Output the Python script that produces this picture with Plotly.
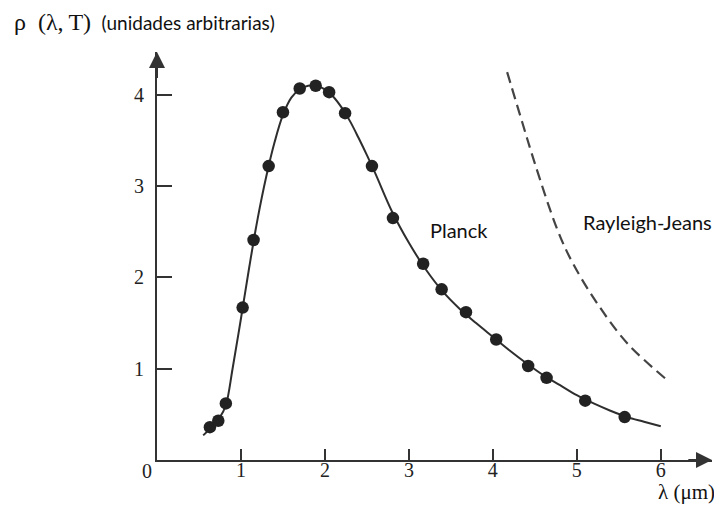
import plotly.graph_objects as go

# Measured data points (lambda in um, rho arbitrary units)
data_x = [0.63, 0.73, 0.82, 1.02, 1.15, 1.33, 1.50, 1.70, 1.89, 2.05, 2.24, 2.56,
          2.81, 3.17, 3.39, 3.68, 4.04, 4.42, 4.64, 5.10, 5.57]
data_y = [0.36, 0.43, 0.62, 1.67, 2.41, 3.22, 3.81, 4.07, 4.10, 4.03, 3.80, 3.22,
          2.65, 2.15, 1.87, 1.62, 1.32, 1.03, 0.90, 0.65, 0.47]

# Planck curve
planck_x = [0.55, 0.65, 0.75, 0.82, 0.90, 1.00, 1.10, 1.20, 1.30, 1.40, 1.50, 1.60,
            1.70, 1.80, 1.90, 2.00, 2.10, 2.20, 2.30, 2.40, 2.50, 2.60, 2.80, 3.00,
            3.20, 3.40, 3.60, 3.80, 4.00, 4.20, 4.40, 4.60, 4.80, 5.00, 5.20, 5.40,
            5.60, 5.80, 6.00]
planck_y = [0.27, 0.36, 0.47, 0.60, 1.00, 1.55, 2.12, 2.65, 3.10, 3.48, 3.78, 3.97,
            4.06, 4.10, 4.10, 4.06, 3.98, 3.86, 3.71, 3.53, 3.34, 3.14, 2.72, 2.38,
            2.09, 1.85, 1.66, 1.50, 1.35, 1.20, 1.06, 0.93, 0.82, 0.71, 0.62, 0.54,
            0.47, 0.42, 0.37]

# Rayleigh-Jeans curve
rj_x = [4.17, 4.35, 4.50, 4.77, 4.95, 5.24, 5.60, 6.07]
rj_y = [4.25, 3.70, 3.25, 2.52, 2.16, 1.72, 1.28, 0.88]

x_ticks = [1, 2, 3, 4, 5, 6]
y_ticks = [1, 2, 3, 4]

XMAX = 6.61
YMAX = 4.47
AX = "#333333"
SERIF = "Liberation Serif"
SANS = "Lato"

fig = go.Figure()
fig.add_trace(go.Scatter(x=planck_x, y=planck_y, mode="lines",
                         line=dict(color="#2e2e2e", width=2, shape="spline"),
                         hoverinfo="skip"))
fig.add_trace(go.Scatter(x=rj_x, y=rj_y, mode="lines",
                         line=dict(color="#444444", width=2.2, dash="11px,6px", shape="spline"),
                         hoverinfo="skip"))
fig.add_trace(go.Scatter(x=data_x, y=data_y, mode="markers",
                         marker=dict(color="#222222", size=12.5, line=dict(width=0)),
                         hoverinfo="skip"))

# page body has an 8px margin, so the figure is 8px smaller and shifted
fig.update_layout(
    width=714, height=510,
    margin=dict(l=149, r=10, t=44, b=58, autoexpand=False),
    paper_bgcolor="white", plot_bgcolor="white",
    showlegend=False,
    xaxis=dict(range=[0, XMAX], showgrid=False, zeroline=False, automargin=False,
               showline=True, linecolor=AX, linewidth=2,
               tickvals=x_ticks, ticktext=[str(v) for v in x_ticks],
               ticks="inside", ticklen=11, tickwidth=1.5, tickcolor=AX,
               tickfont=dict(family=SERIF, size=20, color="#222"),
               ticklabelstandoff=-9),
    yaxis=dict(range=[0, YMAX], showgrid=False, zeroline=False, automargin=False,
               showline=True, linecolor=AX, linewidth=2,
               tickvals=y_ticks, ticktext=[str(v) for v in y_ticks],
               ticks="inside", ticklen=15, tickwidth=1.5, tickcolor=AX,
               tickfont=dict(family=SERIF, size=20, color="#222"),
               ticklabelstandoff=7),
)

# axis arrowheads
fig.add_annotation(x=XMAX, y=0, ax=XMAX - 0.3, ay=0, xref="x", yref="y",
                   axref="x", ayref="y", showarrow=True, arrowhead=2,
                   arrowsize=1.6, arrowwidth=2, arrowcolor=AX, text="")
fig.add_annotation(x=0, y=YMAX, ax=0, ay=YMAX - 0.3, xref="x", yref="y",
                   axref="x", ayref="y", showarrow=True, arrowhead=2,
                   arrowsize=1.6, arrowwidth=2, arrowcolor=AX, text="")

# origin label
fig.add_annotation(x=0, y=0, xref="x", yref="y", text="0", showarrow=False,
                   xshift=-10, yshift=-11,
                   font=dict(family=SERIF, size=20, color="#222"))

# text labels
fig.add_annotation(x=0, y=1, xref="paper", yref="paper", xshift=-145, yshift=30,
                   xanchor="left", yanchor="middle", showarrow=False,
                   text="<span style='font-family:Liberation Serif;font-size:24px'>ρ\u00a0\u00a0(λ,\u2009T)</span>"
                        "\u00a0\u00a0<span style='font-family:Lato;font-size:19px'>(unidades arbitrarias)</span>",
                   font=dict(size=20, color="#111"))
fig.add_annotation(x=3.23, y=2.52, xref="x", yref="y", xanchor="left",
                   showarrow=False, text="Planck",
                   font=dict(family=SANS, size=20, color="#111"))
fig.add_annotation(x=5.05, y=2.61, xref="x", yref="y", xanchor="left",
                   showarrow=False, text="Rayleigh-Jeans",
                   font=dict(family=SANS, size=20, color="#111"))
fig.add_annotation(x=1, y=0, xref="paper", yref="paper", xshift=5, yshift=-32,
                   xanchor="right", yanchor="middle", showarrow=False,
                   text="λ\u00a0(μm)",
                   font=dict(family=SERIF, size=21, color="#111"))

fig.write_html("out.html")
